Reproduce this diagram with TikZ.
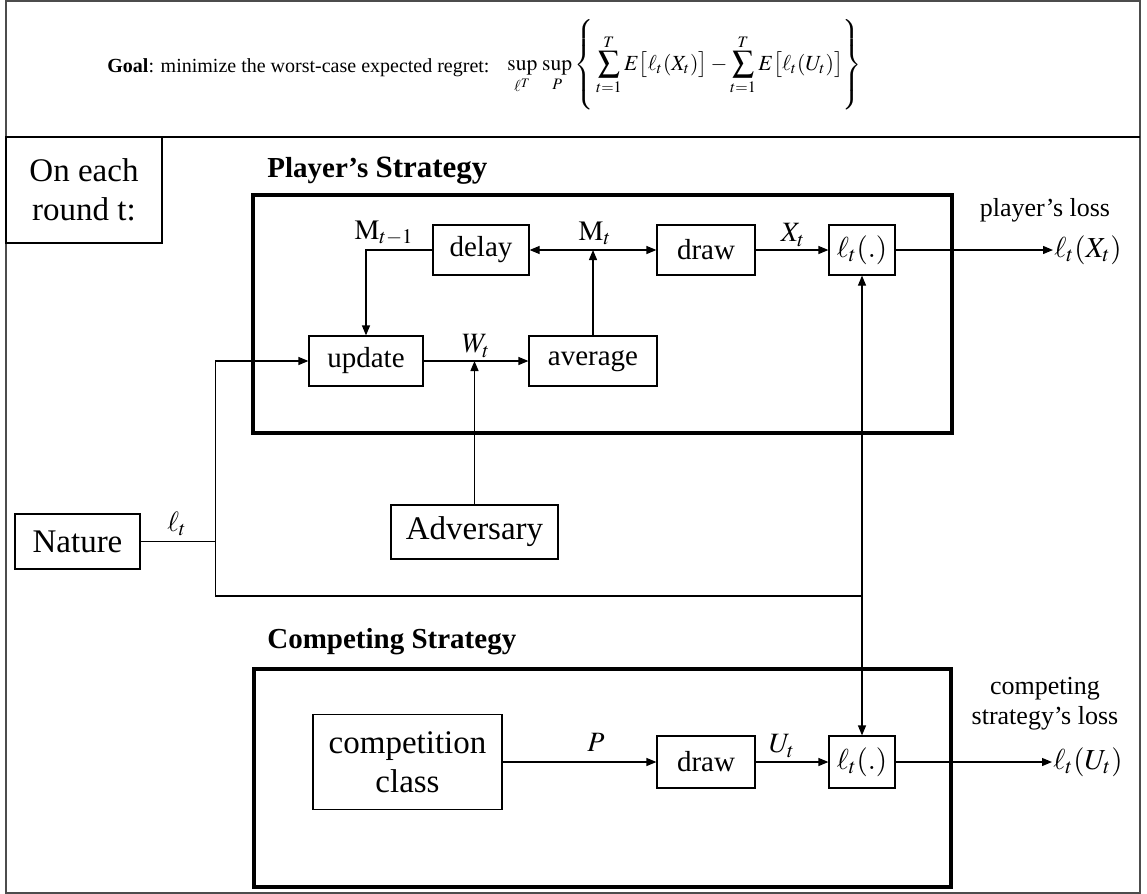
\documentclass[tikz,border=0pt]{standalone}
\usepackage{mathptmx}
\usepackage{fontspec}
\setmainfont{Liberation Serif}
\usetikzlibrary{arrows.meta, positioning, calc}

\begin{document}
\begin{tikzpicture}[x=0.5pt, y=-0.5pt,
  blk/.style={draw, line width=0.6pt, minimum height=25pt, inner sep=1pt, font=\fontsize{14.5}{16}\selectfont},
  bigblk/.style={blk, font=\fontsize{16.5}{19.5}\selectfont},
  frm/.style={draw, line width=2.2pt},
  arr/.style={-{Triangle[length=5pt, width=4pt]}, line width=0.6pt},
  wire/.style={line width=0.6pt},
  sig/.style={font=\fontsize{14}{16}\selectfont, inner sep=1pt},
  title/.style={font=\fontsize{14.5}{17}\selectfont\bfseries, anchor=base west, inner sep=0pt},
  losslbl/.style={font=\fontsize{13}{15}\selectfont, align=center, inner sep=0pt},
]
  \useasboundingbox (0,0) rectangle (1147,894);

  % outer frame and header
  \draw[gray!60!black, line width=0.8pt] (6,0.8) rectangle (1140,893);
  \draw[line width=0.8pt] (6,137) -- (1140,137);
  \node[anchor=base west, inner sep=0pt, font=\fontsize{10}{12}\selectfont] (goal) at (107,72) {\textbf{Goal}: minimize the worst-case expected regret:};
  \node[anchor=west, inner sep=0pt, font=\fontsize{10.8}{13}\selectfont] (regret) at (507,66)
    {$\displaystyle \sup_{\ell^T}\,\sup_{P}\left\{\rule[-21pt]{0pt}{45pt}\sum_{t=1}^{T}E\bigl[\ell_t(X_t)\bigr]-\sum_{t=1}^{T}E\bigl[\ell_t(U_t)\bigr]\right\}$};
  \node[bigblk, line width=0.8pt, minimum width=78pt, minimum height=53pt, align=center] (round) at (84,190) {On each\\round t:};

  % strategy frames
  \draw[frm] (253,195) rectangle (952,433);
  \draw[frm] (254,669) rectangle (951,887);
  \node[title] (ptitle) at (267,177) {Player's \fontsize{15.5}{17}\selectfont Strategy};
  \node[title] (ctitle) at (267,648) {Competing Strategy};

  % blocks
  \node[blk, minimum width=48pt] (delay) at (481,250) {delay};
  \node[blk, minimum width=49pt] (draw1) at (706,250) {draw};
  \node[blk, minimum width=33pt] (loss1) at (862,250) {$\ell_t(.)$};
  \node[blk, minimum width=57pt] (update) at (366,361) {update};
  \node[blk, minimum width=64pt] (avg) at (593,361) {average};
  \node[bigblk, minimum width=62.5pt, minimum height=27.5pt] (nature) at (77.5,541.5) {Nature};
  \node[bigblk, minimum width=83.5pt, minimum height=27pt] (adv) at (474.5,532) {Adversary};
  \node[bigblk, minimum width=94.5pt, minimum height=47.5pt, align=center] (cclass) at (407.5,762) {competition\\class};
  \node[blk, minimum width=49pt, minimum height=26pt] (draw2) at (706,762) {draw};
  \node[blk, minimum width=33pt, minimum height=26pt] (loss2) at (862,762) {$\ell_t(.)$};

  % signal labels
  \node[sig] (mprev) at (384,233) {$\mathrm{M}_{t-1}$};
  \node[sig] (mcur) at (595,233) {$\mathrm{M}_t$};
  \node[sig] (xlbl) at (793,235) {$X_t$};
  \node[sig] (wlbl) at (476,346) {$W_t$};
  \node[sig] (llbl) at (177,524) {$\ell_t$};
  \node[sig] (plbl) at (596,742) {$P$};
  \node[sig] (ulbl) at (782,746) {$U_t$};

  % outputs
  \node[sig, anchor=west, inner sep=0.5pt, font=\fontsize{14.5}{16}\selectfont] (lx) at (1053,250) {$\ell_t(X_t)$};
  \node[sig, anchor=west, inner sep=0.5pt, font=\fontsize{14.5}{16}\selectfont] (lu) at (1052,762) {$\ell_t(U_t)$};
  \node[losslbl] (plossl) at (1045,210) {player's loss};
  \node[losslbl] (clossl) at (1045,704) {competing\\strategy's loss};

  % connectors
  \coordinate (mj) at (avg.north |- delay.east);
  \coordinate (wj) at (adv.north |- update.east);
  \path (nature.east) ++(75,0) coordinate (nj);
  \coordinate (lj) at (loss1.south |- 0,596);

  \draw[arr] (delay.west) -| (update.north);
  \draw[arr] (mj) -- (delay.east);
  \draw[arr] (mj) -- (draw1.west);
  \draw[arr] (avg.north) -- (mj);
  \draw[arr] (draw1) -- (loss1);
  \draw[arr] (loss1) -- (lx);
  \draw[arr] (update) -- (avg);
  \draw[arr] (adv) -- (wj);
  \draw[wire] (nature) -- (nj);
  \draw[arr] (nj) |- (update.west);
  \draw[wire] (nj) |- (lj);
  \draw[arr] (lj) -- (loss1.south);
  \draw[arr] (lj) -- (loss2.north);
  \draw[arr] (cclass) -- (draw2);
  \draw[arr] (draw2) -- (loss2);
  \draw[arr] (loss2) -- (lu);
\end{tikzpicture}
\end{document}
